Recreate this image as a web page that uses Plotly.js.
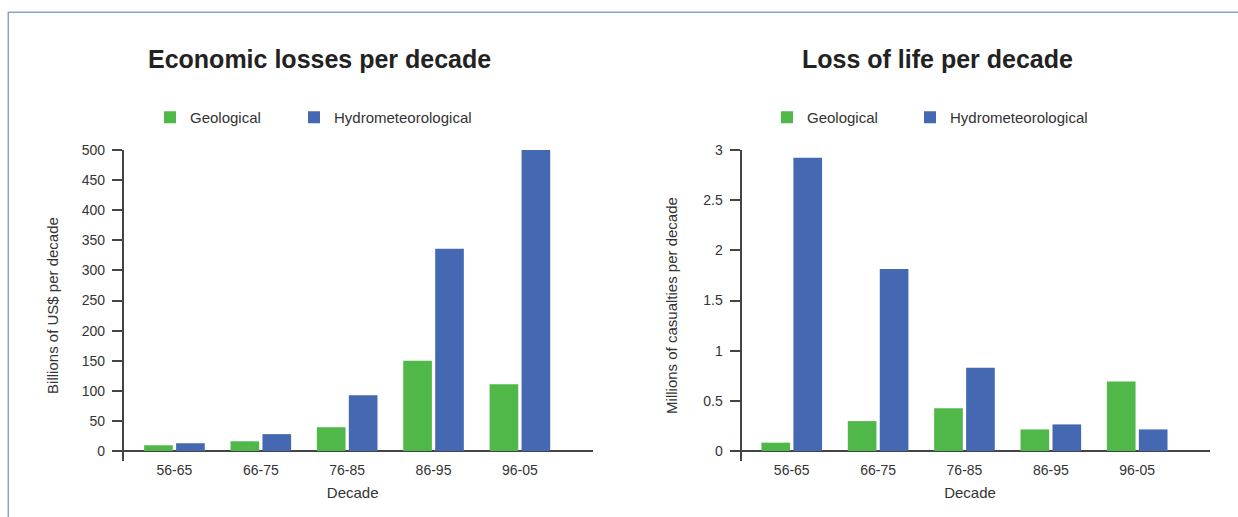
<!DOCTYPE html>
<html>
<head>
<meta charset="utf-8">
<script src="https://cdn.plot.ly/plotly-3.0.1.min.js"></script>
<style>html,body{margin:0;padding:0;background:#fff;}#chart{width:1238px;height:517px;}</style>
</head>
<body>
<div id="chart"></div>
<script>
// ---- data ----
const decades = ["56-65", "66-75", "76-85", "86-95", "96-05"];
const econGeological = [9.5, 16, 39.5, 150, 111];
const econHydromet = [13, 28, 92.5, 336, 500];
const lifeGeological = [0.083, 0.298, 0.427, 0.215, 0.692];
const lifeHydromet = [2.924, 1.815, 0.83, 0.265, 0.215];
const seriesNames = ["Geological", "Hydrometeorological"];
const chartTitles = ["Economic losses per decade", "Loss of life per decade"];
const yTitles = ["Billions of US$ per decade", "Millions of casualties per decade"];
const xTitle = "Decade";

// ---- style ----
const W = 1238, H = 517;
const GREEN = "#50b848", BLUE = "#4468b1";
const AX = "#444444", TXT = "#333333";
const FONT = "Liberation Sans, Arial, sans-serif";
const px = v => v / W;
const py = v => 1 - v / H;

const traces = [
  {type: "bar", x: decades, y: econGeological, name: seriesNames[0], marker: {color: GREEN}, xaxis: "x", yaxis: "y", legend: "legend"},
  {type: "bar", x: decades, y: econHydromet, name: seriesNames[1], marker: {color: BLUE}, xaxis: "x", yaxis: "y", legend: "legend2"},
  {type: "bar", x: decades, y: lifeGeological, name: seriesNames[0], marker: {color: GREEN}, xaxis: "x2", yaxis: "y2", legend: "legend3"},
  {type: "bar", x: decades, y: lifeHydromet, name: seriesNames[1], marker: {color: BLUE}, xaxis: "x2", yaxis: "y2", legend: "legend4"}
];

function xAxis(d0, d1, anchor) {
  return {
    domain: [px(d0), px(d1)], anchor: anchor, type: "category",
    range: [-0.715, 4.843], showline: false, ticks: "", showgrid: false, zeroline: false,
    tickfont: {family: FONT, size: 14, color: TXT}, ticklabelstandoff: -1,
    title: {text: xTitle, font: {family: FONT, size: 15, color: TXT}, standoff: 10}
  };
}
function yAxis(pos, range, dtick, title, standoff) {
  return {
    domain: [py(461), py(150)], anchor: "free", position: px(pos),
    range: range, dtick: dtick, tick0: 0,
    showline: true, linecolor: AX, linewidth: 2,
    ticks: "outside", ticklen: 10.5, tickwidth: 2, tickcolor: AX,
    showgrid: false, zeroline: true, zerolinecolor: AX, zerolinewidth: 2,
    tickfont: {family: FONT, size: 14, color: TXT}, ticklabelstandoff: 4,
    title: {text: title, font: {family: FONT, size: 15, color: TXT}, standoff: standoff}
  };
}
function legendAt(x) {
  return {
    orientation: "h", x: px(x), xanchor: "left", y: py(117.5), yanchor: "middle",
    font: {family: FONT, size: 15, color: TXT}, bgcolor: "rgba(0,0,0,0)"
  };
}

const layout = {
  width: W, height: H,
  margin: {l: 0, r: 0, t: 0, b: 0},
  paper_bgcolor: "#ffffff", plot_bgcolor: "rgba(0,0,0,0)",
  font: {family: FONT, color: TXT},
  barmode: "group", bargap: 0.26, bargroupgap: 0.103,
  xaxis: xAxis(112.7, 592.7, "y"),
  yaxis: yAxis(123.3, [-16.6, 500], 50, yTitles[0], 18),
  xaxis2: xAxis(730, 1210, "y2"),
  yaxis2: yAxis(741, [-0.0997, 3], 0.5, yTitles[1], 21),
  legend: legendAt(150),
  legend2: legendAt(294),
  legend3: legendAt(767),
  legend4: legendAt(910),
  annotations: [
    {text: "<b>" + chartTitles[0] + "</b>", xref: "paper", yref: "paper", x: px(319.5), y: py(59), xanchor: "center", yanchor: "middle", showarrow: false, font: {family: FONT, size: 25, color: "#222222"}},
    {text: "<b>" + chartTitles[1] + "</b>", xref: "paper", yref: "paper", x: px(937), y: py(59), xanchor: "center", yanchor: "middle", showarrow: false, font: {family: FONT, size: 25, color: "#222222"}}
  ],
  shapes: [
    {type: "rect", xref: "paper", yref: "paper", x0: px(8.3), x1: px(1260), y0: py(12.3), y1: py(540), line: {color: "#8aa3cb", width: 1.5}, fillcolor: "rgba(0,0,0,0)", layer: "below"}
  ],
  showlegend: true
};

Plotly.newPlot("chart", traces, layout, {displayModeBar: false, staticPlot: true});
</script>
</body>
</html>
